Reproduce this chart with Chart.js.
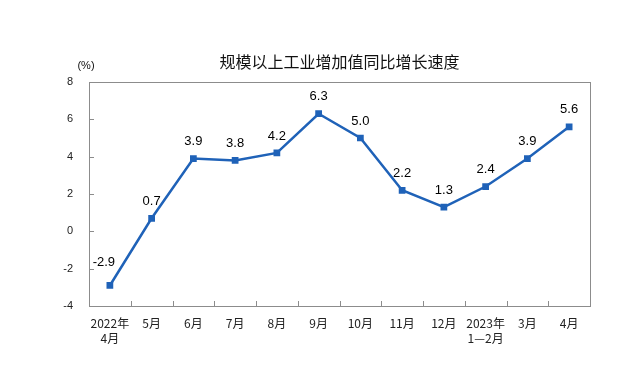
<!DOCTYPE html>
<html lang="zh">
<head>
<meta charset="UTF-8">
<title>规模以上工业增加值同比增长速度</title>
<script src="https://cdn.jsdelivr.net/npm/chart.js"></script>
<style>
body { margin: 0; background: #fff; }
#wrap { width: 640px; height: 377px; }
</style>
</head>
<body>
<div id="wrap"><canvas id="chart" width="640" height="377"></canvas></div>
<script>
const months = [["2022年", "4月"], "5月", "6月", "7月", "8月", "9月", "10月", "11月", "12月", ["2023年", "1—2月"], "3月", "4月"];
const growth = [-2.9, 0.7, 3.9, 3.8, 4.2, 6.3, 5.0, 2.2, 1.3, 2.4, 3.9, 5.6];
const yTicks = [-4, -2, 0, 2, 4, 6, 8];

const frame = {
    id: "frame",
    afterDraw(chart) {
        const ctx = chart.ctx;
        const a = chart.chartArea;
        const x = chart.scales.x, y = chart.scales.y;
        ctx.save();
        ctx.strokeStyle = "#8c8c8c";
        ctx.lineWidth = 1;
        ctx.strokeRect(Math.round(a.left) + 0.5, Math.round(a.top) + 0.5, Math.round(a.right - a.left), Math.round(a.bottom - a.top));
        // inward tick marks
        ctx.beginPath();
        yTicks.forEach(v => {
            const py = Math.round(y.getPixelForValue(v)) + 0.5;
            ctx.moveTo(a.left, py);
            ctx.lineTo(a.left + 5, py);
        });
        for (let i = 1; i < months.length; i++) {
            const px = Math.round((x.getPixelForValue(i - 1) + x.getPixelForValue(i)) / 2) + 0.5;
            ctx.moveTo(px, a.bottom);
            ctx.lineTo(px, a.bottom - 5);
        }
        ctx.stroke();

        // title and unit
        ctx.fillStyle = "#111";
        ctx.textAlign = "center";
        ctx.textBaseline = "middle";
        ctx.font = "16px 'Noto Sans CJK SC'";
        ctx.fillText("规模以上工业增加值同比增长速度", (a.left + a.right) / 2, 62);
        ctx.font = "11px 'Liberation Sans'";
        ctx.fillText("(%)", 86, 66);

        // data labels
        const meta = chart.getDatasetMeta(0);
        ctx.font = "13px 'Liberation Sans'";
        ctx.fillStyle = "#000";
        meta.data.forEach((pt, i) => {
            let dx = 0, dy = 17;
            if (i === 0) { dx = -6; dy = 23; }
            ctx.fillText(growth[i].toFixed(1), pt.x + dx, pt.y - dy);
        });
        ctx.restore();
    }
};

new Chart(document.getElementById("chart"), {
    type: "line",
    data: {
        labels: months,
        datasets: [{
            data: growth,
            borderColor: "#1f62b8",
            backgroundColor: "#1f62b8",
            borderWidth: 2.5,
            pointStyle: "rect",
            pointRadius: 3,
            pointHoverRadius: 3,
            tension: 0,
            fill: false
        }]
    },
    options: {
        responsive: false,
        animation: false,
        layout: { padding: { top: 82, right: 50, bottom: 0, left: 0 } },
        plugins: { legend: { display: false }, title: { display: false }, tooltip: { enabled: false } },
        scales: {
            x: {
                offset: true,
                grid: { display: false },
                border: { display: false },
                ticks: { color: "#222", font: { size: 12, family: "'Noto Sans CJK SC'", lineHeight: 1.25 }, maxRotation: 0, autoSkip: false, padding: 2 },
                afterFit(s) { s.height = 71; }
            },
            y: {
                min: -4, max: 8,
                afterBuildTicks(s) { s.ticks = yTicks.map(v => ({ value: v })); },
                grid: { display: false },
                border: { display: false },
                ticks: { color: "#222", font: { size: 11, family: "'Liberation Sans'" }, padding: 8 },
                afterFit(s) { s.width = 89; }
            }
        }
    },
    plugins: [frame]
});
</script>
</body>
</html>
